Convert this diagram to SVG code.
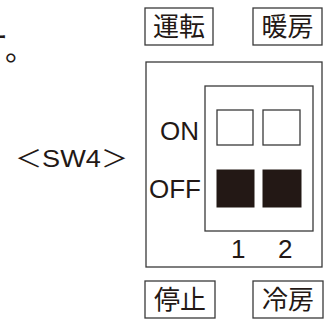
<svg xmlns="http://www.w3.org/2000/svg" width="328" height="320" viewBox="0 0 328 320">
<style>
.box{fill:#fff;stroke:#3a3a3a;stroke-width:1.3}
.sq{fill:#fff;stroke:#3a3a3a;stroke-width:1.3}
.blk{fill:#231815;stroke:#231815;stroke-width:1}
.jp{font-family:"Noto Sans CJK JP","Noto Sans",sans-serif;font-size:26px;fill:#231815}
.lt{font-family:"Liberation Sans","Noto Sans CJK JP",sans-serif;font-size:26px;fill:#231815}
</style>
<rect width="328" height="320" fill="#fff"/>
<text class="jp" style="font-size:30px"><tspan x="-22" y="48">ー</tspan><tspan x="5" y="60">。</tspan></text>
<text class="lt" style="font-size:24px" x="15" y="167" textLength="113" lengthAdjust="spacingAndGlyphs">＜SW4＞</text>
<g id="switch">
<rect class="box" x="146" y="62" width="176" height="205"/>
<rect class="box" x="205" y="86" width="108" height="145"/>
<text class="lt" x="199" y="140" text-anchor="end">ON</text>
<text class="lt" x="201" y="198" text-anchor="end">OFF</text>
<rect class="sq" x="217" y="110" width="36" height="35"/>
<rect class="sq" x="263" y="110" width="37" height="35"/>
<rect class="blk" x="217" y="170" width="37" height="37"/>
<rect class="blk" x="263" y="170" width="38" height="37"/>
<text class="lt" x="231" y="258">1</text>
<text class="lt" x="278" y="258">2</text>
</g>
<g id="unten"><rect class="box" x="145" y="8" width="68" height="37"/><text class="jp" x="179" y="36" text-anchor="middle">運転</text></g>
<g id="danbou"><rect class="box" x="253" y="8" width="69" height="37"/><text class="jp" x="287.5" y="36" text-anchor="middle">暖房</text></g>
<g id="teishi"><rect class="box" x="145" y="281" width="70" height="37"/><text class="jp" x="180" y="309" text-anchor="middle">停止</text></g>
<g id="reibou"><rect class="box" x="253" y="281" width="70" height="37"/><text class="jp" x="288" y="309" text-anchor="middle">冷房</text></g>
</svg>
